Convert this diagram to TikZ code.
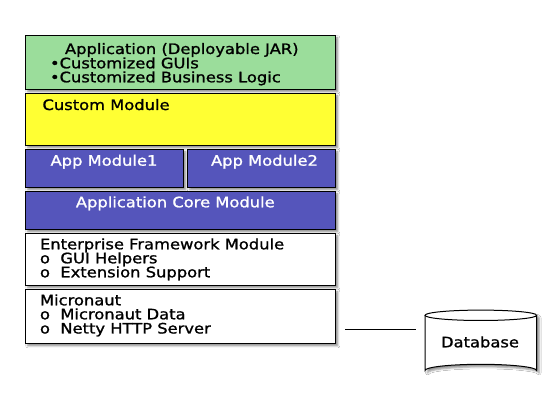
\documentclass[tikz,border=0pt]{standalone}
\usepackage{fontspec}
\setmainfont{DejaVu Sans}
\newfontfamily\diafont{DejaVu Sans}[FakeStretch=1.134,FakeBold=1.2]
\usetikzlibrary{shadows.blur,calc}
\definecolor{appgreen}{RGB}{155,221,155}
\definecolor{modyellow}{RGB}{255,255,51}
\definecolor{modblue}{RGB}{85,85,187}
\begin{document}
\begin{tikzpicture}[x=1pt,y=-1pt,
  box/.style={draw=black,line width=1pt,anchor=north west,inner sep=0pt,outer sep=0pt,
    blur shadow={shadow xshift=2.5pt,shadow yshift=-2.5pt,shadow blur radius=2pt,shadow opacity=45}},
  lbl/.style={inner sep=0pt,outer sep=0pt,font=\fontsize{14.4}{14}\diafont},
  lw/.style={lbl,anchor=base west},
  lc/.style={lbl,anchor=base,text=white},
  conn/.style={draw=black,line width=1pt}
  ]
\useasboundingbox (0,0) rectangle (560,406);
\fill[white] (0,0) rectangle (560,406);
% boxes
\node[box,fill=appgreen,minimum width=310pt,minimum height=54pt] (app) at (25.3,35.3) {};
\node[box,fill=modyellow,minimum width=310pt,minimum height=52pt] (custom) at (25.3,93.3) {};
\node[box,fill=modblue,minimum width=158pt,minimum height=38pt] (m1) at (25.3,149.3) {};
\node[box,fill=modblue,minimum width=148pt,minimum height=38pt] (m2) at (187.3,149.3) {};
\node[box,fill=modblue,minimum width=310pt,minimum height=38pt] (core) at (25.3,191.3) {};
\node[box,fill=white,minimum width=310pt,minimum height=52pt] (ent) at (25.3,233.3) {};
\node[box,fill=white,minimum width=310pt,minimum height=54pt] (mic) at (25.3,289.3) {};
% texts
\node[lw] (apptitle) at (65,54) {Application (Deployable JAR)};
\node[lw] (appb1) at (50,68.3) {•Customized GUIs};
\node[lw] (appb2) at (50,82.3) {•Customized Business Logic};
\node[lw] (customt) at (42.5,110) {Custom Module};
\node[lc] (m1t) at (104,165.7) {App Module1};
\node[lc] (m2t) at (264.5,165.7) {App Module2};
\node[lc] (coret) at (175.3,207.3) {Application Core Module};
\node[lw] (ent1) at (40,249.3) {Enterprise Framework Module};
\node[lw] (ent2) at (40,263.3) {o~~GUI Helpers};
\node[lw] (ent3) at (40,277.3) {o~~Extension Support};
\node[lw] (mic1) at (40,305.3) {Micronaut};
\node[lw] (mic2) at (40,319.3) {o~~Micronaut Data};
\node[lw] (mic3) at (40,333.5) {o~~Netty HTTP Server};
% database cylinder
\path[blur shadow={shadow xshift=2.5pt,shadow yshift=-2.5pt,shadow blur radius=2pt,shadow opacity=45},fill=white]
  (425,315.3) -- (425,370.5) arc[start angle=180,end angle=360,x radius=55.8,y radius=6.2]
  -- (536.6,315.3) arc[start angle=0,end angle=-180,x radius=55.8,y radius=5.2] -- cycle;
\draw[line width=1pt,fill=white]
  (425,315.3) -- (425,370.5) arc[start angle=180,end angle=360,x radius=55.8,y radius=6.2]
  -- (536.6,315.3);
\draw[line width=1pt] (480.8,315.3) ellipse[x radius=55.8,y radius=5.2];
\node[inner sep=0pt,minimum width=111pt,minimum height=62pt] (db) at (480.8,343) {};
\node[lbl,anchor=base] (dbt) at (480,347.3) {Database};
% connector
\coordinate (c1) at ($(mic.east)+(10,13)$);
\coordinate (c2) at ($(db.west)+(-9,-13.7)$);
\draw[conn] (c1) -- (c2);
\end{tikzpicture}
\end{document}
